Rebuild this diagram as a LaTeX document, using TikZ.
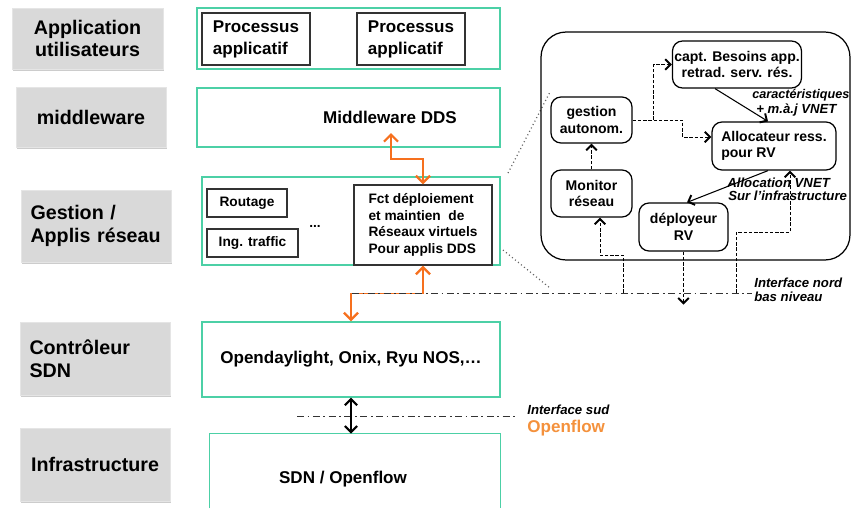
\documentclass[tikz,border=0pt]{standalone}
\usepackage{fontspec}
\setmainfont{Liberation Sans}
\usetikzlibrary{arrows.meta,shadows}
\definecolor{boxgreen}{RGB}{76,208,166}
\definecolor{arrorange}{RGB}{246,112,30}
\definecolor{layergray}{RGB}{217,217,217}
\definecolor{openfl}{RGB}{244,145,60}

\begin{document}
\begin{tikzpicture}[x=0.02cm,y=-0.02cm,
    layer/.style={fill=layergray,draw=black!10,minimum width=3cm,align=center,
        drop shadow={shadow xshift=0.8pt,shadow yshift=-1.2pt,opacity=0.4},
        font=\fontsize{11.2}{13}\selectfont\bfseries},
    greenbox/.style={draw=boxgreen,line width=0.8pt,fill=white,
        drop shadow={shadow xshift=0.6pt,shadow yshift=-0.8pt,opacity=0.15}},
    bigtxt/.style={font=\fontsize{9.7}{12.5}\selectfont\bfseries,align=center},
    procbox/.style={draw=black!80,line width=0.7pt,align=left,inner sep=2pt,
        font=\fontsize{9.7}{12.5}\selectfont\bfseries},
    smallbox/.style={draw=black!80,line width=0.7pt,fill=white,align=left,inner sep=2pt,
        font=\fontsize{7.8}{9.5}\selectfont\bfseries},
    pbox/.style={draw,rounded corners=0.2cm,line width=0.7pt,fill=white,align=center,
        inner sep=1pt,font=\fontsize{8}{9.5}\selectfont\bfseries},
    plabel/.style={inner sep=0pt,align=left,font=\fontsize{7.5}{8.5}\selectfont\bfseries\itshape},
    orangearr/.style={draw=arrorange,line width=0.8pt,
        {Straight Barb[length=4pt,width=8pt,line width=1.3pt]}-{Straight Barb[length=4pt,width=8pt,line width=1.3pt]}},
    blackarr/.style={line width=0.8pt,
        {Straight Barb[length=3.5pt,width=7pt,line width=1.2pt]}-{Straight Barb[length=3.5pt,width=7pt,line width=1.2pt]}},
    solidarr/.style={line width=0.6pt,-{Straight Barb[length=3pt,width=6pt,line width=1.1pt]}},
    dasharr/.style={line width=0.5pt,dash pattern=on 2pt off 1pt,-{Straight Barb[length=3pt,width=6pt,line width=1.1pt]}},
    ifline/.style={line width=0.5pt,black!80,dash pattern=on 4pt off 2pt on 1pt off 2pt},
    zoomline/.style={black!60,line width=0.7pt,dash pattern=on 0.6pt off 1.6pt}]

    \useasboundingbox (0,0) rectangle (852,508);

    \node[layer,minimum width=3.02cm,minimum height=1.22cm] (appl) at (87.5,38.5) {Application\\utilisateurs};
    \node[layer,minimum height=1.2cm] (midl) at (91,117) {middleware};
    \node[layer,minimum height=1.44cm,text width=2.62cm,align=left] (gest) at (96,226) {Gestion /\\Applis réseau};
    \node[layer,minimum height=1.46cm,text width=2.62cm,align=left] (ctrl) at (95,358.5) {Contrôleur\\SDN};
    \node[layer,minimum height=1.46cm] (infra) at (95,464.5) {Infrastructure};

    \node[greenbox,minimum width=6.06cm,minimum height=1.22cm] (appbox) at (348.5,38.5) {};
    \node[procbox,minimum width=2.16cm,minimum height=1.04cm] (proc1) at (256,39) {Processus\\applicatif};
    \node[procbox,minimum width=2.16cm,minimum height=1.04cm] (proc2) at (411,39) {Processus\\applicatif};

    \node[greenbox,minimum width=6.06cm,minimum height=1.18cm] (mwbox) at (348.5,117.5) {};
    \node[bigtxt] (mwtxt) at (390,117) {Middleware DDS};

    \node[greenbox,minimum width=5.96cm,minimum height=1.76cm] (gestbox) at (351,221) {};
    \node[smallbox,minimum width=1.6cm,minimum height=0.56cm] (rout) at (247,203) {Routage};
    \node[smallbox,minimum width=1.82cm,minimum height=0.56cm] (ing) at (252.5,243) {Ing. traffic};
    \node[font=\fontsize{7.8}{9.5}\selectfont\bfseries] (etc) at (315,226) {...};
    \node[smallbox,minimum width=2.76cm,minimum height=1.6cm] (fct) at (423,225) {Fct déploiement\\et maintien\ \ de\\Réseaux virtuels\\Pour applis DDS};

    \node[greenbox,bigtxt,minimum width=5.96cm,minimum height=1.5cm] (ctrlbox) at (351,359.5) {Opendaylight, Onix, Ryu NOS,…};

    \node[minimum width=5.8cm,minimum height=1.48cm] (infbox) at (355,471) {};
    \draw[boxgreen,line width=0.8pt] (infbox.south west) |- (infbox.north east) -- (infbox.south east);
    \node[bigtxt] (sdntxt) at (343,479) {SDN / Openflow};

    \coordinate (mwtip) at (391,133);
    \draw[orangearr] (mwtip) -- ++(0,26) -| (fct.north);
    \draw[orangearr] (fct.south) -- ++(0,28) -| (ctrlbox.north);

    \coordinate (nordW) at (352,293);
    \coordinate (nordE) at (752,293);
    \draw[ifline] (nordW) -- (nordE);
    \node[plabel,anchor=west,font=\fontsize{7.5}{8}\selectfont\bfseries\itshape] (nordlbl) at (754,290) {Interface nord\\bas niveau};

    \coordinate (sudW) at (297,416);
    \coordinate (sudE) at (515,416);
    \draw[ifline] (sudW) -- (sudE);
    \draw[blackarr] (ctrlbox.south) -- (ctrlbox.south |- infbox.north);
    \node[plabel,anchor=west] (sudlbl) at (527,410) {Interface sud};
    \node[anchor=west,inner sep=0pt,text=openfl,font=\fontsize{9.7}{12}\selectfont\bfseries] (oflbl) at (527,428) {Openflow};

    \coordinate (zoomA) at (508,173);
    \coordinate (zoomB) at (550,92);
    \coordinate (zoomC) at (503,250);
    \coordinate (zoomD) at (550,288);
    \draw[zoomline] (zoomA) -- (zoomB);
    \draw[zoomline] (zoomC) -- (zoomD);

    \node[draw,rounded corners=0.5cm,line width=0.7pt,minimum width=6.18cm,minimum height=4.56cm] (panel) at (695.5,146) {};
    \node[pbox,minimum width=2.56cm,minimum height=0.94cm] (capt) at (737,64.5) {capt. Besoins app.\\retrad. serv. rés.};
    \node[pbox,minimum width=1.62cm,minimum height=0.92cm] (gauto) at (591.5,120) {gestion\\autonom.};
    \node[pbox,minimum width=2.48cm,minimum height=0.96cm,align=left] (alloc) at (774,146) {Allocateur ress.\\pour RV};
    \node[pbox,minimum width=1.62cm,minimum height=0.94cm] (monit) at (591.5,193.5) {Monitor\\réseau};
    \node[pbox,minimum width=1.78cm,minimum height=0.96cm] (deploy) at (683.5,227) {déployeur\\RV};

    \draw[solidarr] ([xshift=-0.44cm]capt.south) -- ([xshift=-0.12cm]alloc.north);
    \node[plabel,anchor=west,font=\fontsize{7.2}{8.5}\selectfont\bfseries\itshape] (caraclbl) at (752,95) {caractéristiques};
    \node[plabel,anchor=west] (majlbl) at (756,110) {+ m.à.j VNET};
    \draw[dasharr] (gauto.east) -- ++(21,0) |- (capt.west);
    \draw[dasharr] (gauto.east) -- ++(50,0) |- ([yshift=0.18cm]alloc.west);
    \draw[dasharr] (monit.north) -- (gauto.south);
    \draw[solidarr] ([xshift=-0.12cm]alloc.south) -- ([xshift=0.07cm]deploy.north);
    \node[plabel,anchor=west] (alloclbl) at (727,183) {Allocation VNET};
    \node[plabel,anchor=west] (surlbl) at (728,196) {Sur l’infrastructure};

    \coordinate (nordA) at (623,293);
    \coordinate (nordB) at (736,293);
    \draw[dasharr] (nordA) -- ++(0,-38) -| ([xshift=0.17cm]monit.south);
    \draw[dasharr] (nordB) -- ++(0,-61) -| ([xshift=0.32cm]alloc.south);
    \draw[dasharr] (deploy.south) -- ++(0,53);

\end{tikzpicture}
\end{document}
